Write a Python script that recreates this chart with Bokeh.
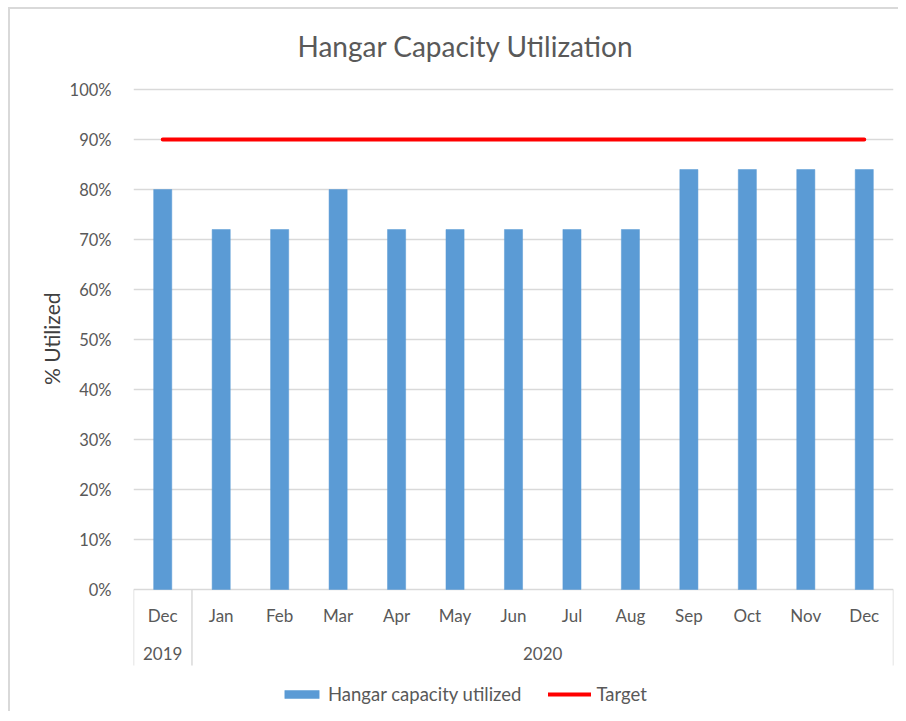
from bokeh.plotting import figure
from bokeh.models import (FactorRange, ColumnDataSource, FixedTicker,
                          NumeralTickFormatter, Legend, LegendItem, Range1d, Title)
from bokeh.embed import file_html
from bokeh.resources import INLINE

# ---- data ----
years = ["2019", "2020", "2020", "2020", "2020", "2020", "2020",
         "2020", "2020", "2020", "2020", "2020", "2020"]
months = ["Dec", "Jan", "Feb", "Mar", "Apr", "May", "Jun",
          "Jul", "Aug", "Sep", "Oct", "Nov", "Dec"]
utilized = [0.80, 0.72, 0.72, 0.80, 0.72, 0.72, 0.72,
            0.72, 0.72, 0.84, 0.84, 0.84, 0.84]
target = [0.90, 0.90, 0.90, 0.90, 0.90, 0.90, 0.90,
          0.90, 0.90, 0.90, 0.90, 0.90, 0.90]
year_labels = ["2019", "2020"]
y_ticks = [0.0, 0.1, 0.2, 0.3, 0.4, 0.5, 0.6, 0.7, 0.8, 0.9, 1.0]

TEXT = "#595959"
GRID = "#d9d9d9"
FONT = "Lato"

factors = list(zip(years, months))
src = ColumnDataSource(dict(x=factors, utilized=utilized, target=target, month=months))

# group boundaries (in category units) for the separator lines
boundaries = [0]
for i in range(1, len(years)):
    if years[i] != years[i - 1]:
        boundaries.append(i)
boundaries.append(len(years))

x_range = FactorRange(*factors, factor_padding=0, group_padding=0,
                      subgroup_padding=0, range_padding=0)

# frame extends below 0 so that the category labels/separators live inside it
p = figure(x_range=x_range, y_range=Range1d(-0.24, 1.02),
           frame_width=760, frame_height=630,
           x_axis_type=None,
           output_backend="svg", toolbar_location=None,
           min_border_left=123, min_border_right=5,
           min_border_top=70, min_border_bottom=2,
           styles={"border-top": "2px solid #d9d9d9",
                   "border-left": "2px solid #d9d9d9",
                   "margin-left": "8px", "margin-top": "7px"})
p.outline_line_color = None
p.background_fill_color = "white"
p.border_fill_color = "white"

# title
p.title.text = "Hangar Capacity Utilization"
p.title.align = "left"
p.title.offset = 164
p.title.standoff = 34
p.title.text_font = FONT
p.title.text_font_size = "28px"
p.title.text_font_style = "normal"
p.title.text_color = TEXT

# y axis
yax = p.yaxis[0]
yax.ticker = FixedTicker(ticks=y_ticks)
yax.formatter = NumeralTickFormatter(format="0%")
yax.axis_line_color = None
yax.major_tick_line_color = None
yax.minor_tick_line_color = None
yax.major_label_text_font = FONT
yax.major_label_text_font_size = "16.5px"
yax.major_label_text_color = TEXT
yax.major_label_standoff = 16

# y axis title, placed along the 0-100% part of the axis
p.add_layout(Title(text="% Utilized", align="right", offset=213, standoff=6,
                   text_font=FONT, text_font_size="21px", text_font_style="normal",
                   text_color="#404040"), "left")

p.ygrid.ticker = FixedTicker(ticks=y_ticks)
p.ygrid.grid_line_color = GRID
p.ygrid.grid_line_width = 1.5

# marks
bars = p.vbar(x="x", top="utilized", width=0.31, source=src,
              fill_color="#5b9bd5", line_color="#5b9bd5", line_width=0.5)
tline = p.line(x="x", y="target", source=src, line_color="#ff0000",
               line_width=4, line_cap="round")

# category separators below the axis
p.segment(x0=boundaries, x1=boundaries, y0=0, y1=-0.152,
          line_color=GRID, line_width=1.5)

# month and year labels
p.text(x="x", y=-0.052, text="month", source=src,
       text_align="center", text_baseline="middle",
       text_font={"value": FONT}, text_font_size="17px", text_color=TEXT)
ysrc = ColumnDataSource(dict(x=year_labels, text=year_labels))
p.text(x="x", y=-0.128, text="text", source=ysrc,
       text_align="center", text_baseline="middle",
       text_font={"value": FONT}, text_font_size="17px", text_color=TEXT)

legend = Legend(items=[LegendItem(label="Hangar capacity utilized", renderers=[bars]),
                       LegendItem(label="Target", renderers=[tline])],
                orientation="horizontal", location=(147, 4),
                glyph_width=43, glyph_height=10, label_standoff=5, spacing=27,
                label_text_font=FONT, label_text_font_size="18.5px",
                label_text_color=TEXT, border_line_color=None,
                background_fill_alpha=0, padding=0, margin=0)
p.add_layout(legend, "center")

open("out.html", "w").write(file_html(p, INLINE))
